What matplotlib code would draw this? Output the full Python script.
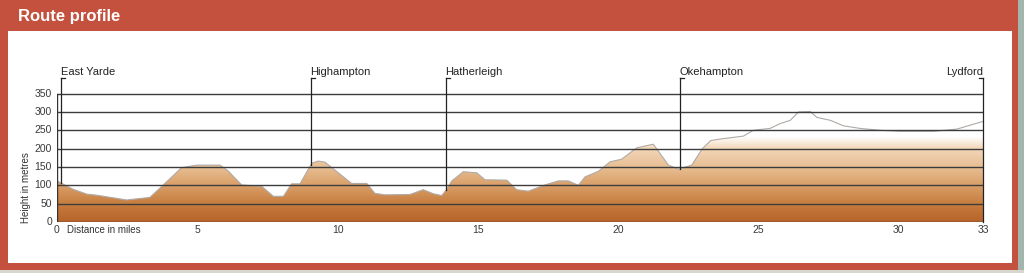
import numpy as np
import matplotlib
matplotlib.use("Agg")
import matplotlib.pyplot as plt
from matplotlib.patches import Rectangle, Polygon
from matplotlib.colors import LinearSegmentedColormap

plt.rcParams['font.family'] = ['Liberation Sans', 'DejaVu Sans']

# ---- data ----
distance_miles = [0.0, 0.17, 0.58, 1.06, 1.41, 2.0, 2.48, 3.31, 3.79, 4.44, 4.98, 5.81,
                  6.10, 6.58, 7.30, 7.71, 8.07, 8.36, 8.66, 9.08, 9.31, 9.55, 10.50,
                  11.04, 11.33, 11.69, 12.58, 13.05, 13.41, 13.71, 13.89, 14.07, 14.48,
                  14.96, 15.25, 16.03, 16.38, 16.80, 17.39, 17.87, 18.22, 18.58, 18.82,
                  19.29, 19.71, 20.12, 20.66, 21.25, 21.79, 22.14, 22.62, 23.0, 23.3,
                  23.63, 24.46, 24.82, 25.41, 25.77, 26.13, 26.43, 26.84, 27.08, 27.56,
                  28.03, 28.62, 29.33, 30.04, 31.23, 32.06, 33.0]
height_m = [112, 105, 89, 76, 73, 66, 60, 67, 101, 148, 155, 155,
            139, 101, 97, 70, 70, 104, 104, 160, 166, 163, 105,
            105, 78, 74, 75, 88, 77, 72, 89, 112, 137,
            134, 115, 114, 88, 84, 101, 112, 112, 100, 123,
            138, 164, 171, 202, 212, 155, 144, 155, 200, 222,
            226, 234, 250, 255, 268, 277, 300, 301, 285, 277,
            262, 255, 250, 247, 247, 253, 274]

places = ["East Yarde", "Highampton", "Hatherleigh", "Okehampton", "Lydford"]
place_miles = [0.15, 9.04, 13.86, 22.2, 33.0]

y_ticks = [0, 50, 100, 150, 200, 250, 300, 350]
x_ticks = [0, 5, 10, 15, 20, 25, 30, 33]

W, H = 1024, 273
fig = plt.figure(figsize=(W / 100, H / 100), dpi=100)
fig.patch.set_facecolor('#c4513e')

def frac_rect(x0, y0, x1, y1, color, z=-5):
    # pixel coordinates from top-left
    fig.patches.append(Rectangle((x0 / W, 1 - y1 / H), (x1 - x0) / W, (y1 - y0) / H,
                                 transform=fig.transFigure, facecolor=color,
                                 edgecolor='none', zorder=z))

frac_rect(1018, 0, 1024, 273, '#a3b6ae')
frac_rect(8, 31, 1012, 263, 'white')
frac_rect(0, 270, 1024, 273, '#d9d6d0')

fig.text(18 / W, 1 - 17 / H, "Route profile", color='white', fontsize=12,
         fontweight='bold', ha='left', va='center')

# axes: x 0->px57, 33->px983; y 0->px222, 0.367 px per metre
ymax = 430
top_px = 222 - ymax * 0.367
ax = fig.add_axes([57 / W, 1 - 222 / H, 926 / W, (222 - top_px) / H])
ax.set_zorder(5)
ax.set_xlim(0, 33)
ax.set_ylim(0, ymax)
ax.axis('off')
ax.patch.set_alpha(0)

# gradient fill under profile
cmap = LinearSegmentedColormap.from_list('earth', [
    (0.0, '#b5642b'), (40 / ymax, '#c47838'), (100 / ymax, '#d99f68'),
    (150 / ymax, '#e8bf94'), (200 / ymax, '#f2d6b8'), (215 / ymax, '#f8e9d8'),
    (232 / ymax, '#ffffff'), (1.0, '#ffffff')])
grad = np.linspace(0, 1, 430).reshape(-1, 1)
verts = [(distance_miles[0], 0)] + list(zip(distance_miles, height_m)) + [(distance_miles[-1], 0)]
poly = Polygon(verts, closed=True, facecolor='none', edgecolor='none')
ax.add_patch(poly)
im = ax.imshow(grad, extent=[0, 33, 0, ymax], origin='lower', aspect='auto',
               cmap=cmap, zorder=1)
im.set_clip_path(poly)
ax.plot(distance_miles, height_m, color='#b0aaa6', lw=0.8, zorder=2)

# grid lines
for yv in y_ticks:
    ax.plot([0, 33], [yv, yv], color='#3c3c3c', lw=1.0, zorder=3, solid_capstyle='butt')
ax.plot([0, 0], [0, 350], color='#333333', lw=1.0, zorder=3)

# tick labels
for yv in y_ticks:
    ax.text(-0.18, yv, str(yv), ha='right', va='center', fontsize=7.5, color='#3a3a3a')
for xv in x_ticks:
    ax.text(xv, -8, str(xv), ha='center', va='top', fontsize=7.5, color='#3a3a3a')
ax.text(0.37, -8, "Distance in miles", ha='left', va='top', fontsize=7, color='#333333')
fig.text(26 / W, 1 - 188 / H, "Height in metres", rotation=90, ha='center', va='center',
         fontsize=7, color='#333333')

# place markers
hook = 0.14
for name, dm in zip(places, place_miles):
    base = 0 if dm >= 33 else float(np.interp(dm, distance_miles, height_m))
    ax.plot([dm, dm], [base, 392], color='#222222', lw=0.9, zorder=4, clip_on=False)
    if dm >= 33:
        ax.plot([dm - hook, dm], [392, 392], color='#222222', lw=0.9, zorder=4, clip_on=False)
        ax.text(dm, 401, name, ha='right', va='baseline', fontsize=8, color='#222222')
    else:
        ax.plot([dm, dm + hook], [392, 392], color='#222222', lw=0.9, zorder=4, clip_on=False)
        ax.text(dm - 0.02, 401, name, ha='left', va='baseline', fontsize=8, color='#222222')

fig.savefig('out.png', dpi=100, facecolor=fig.get_facecolor())
